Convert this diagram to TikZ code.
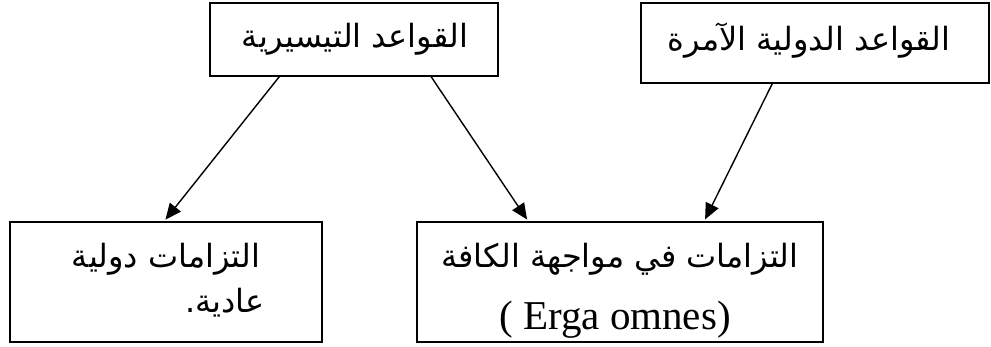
\documentclass[tikz,border=0pt]{standalone}
\usepackage{fontspec}
\setmainfont{Liberation Serif}
\newfontfamily\arabicfont[Script=Arabic]{DejaVu Sans}
\TeXXeTstate=1
\usetikzlibrary{arrows.meta}
\begin{document}
\begin{tikzpicture}[x=1pt,y=-1pt,
  box/.style={draw,line width=1.6pt,minimum width=#1,inner sep=0pt},
  lbl/.style={anchor=base,inner sep=0pt,font=\arabicfont\fontsize{32}{32}\selectfont},
  lat/.style={anchor=base,inner sep=0pt,font=\fontsize{41}{41}\selectfont},
  conn/.style={line width=1.4pt,-{Triangle[length=16pt,width=14pt]},shorten >=2pt}]
\useasboundingbox (0,0) rectangle (991,347);
\node[box=288pt,minimum height=73pt] (A) at (354,39.5) {};
\node[box=348pt,minimum height=80pt] (B) at (815,43) {};
\node[box=312pt,minimum height=120pt] (C) at (166,282) {};
\node[box=406pt,minimum height=120pt] (D) at (620,282) {};
\node[lbl] (ta) at (355,48) {\beginR القواعد التيسيرية\endR};
\node[lbl] (tb) at (809,51) {\beginR القواعد الدولية الآمرة\endR};
\node[lbl] (tc1) at (166,268) {\beginR التزامات دولية\endR};
\node[lbl] (tc2) at (225,313) {\beginR عادية.\endR};
\node[lbl] (td1) at (620,268) {\beginR التزامات في مواجهة الكافة\endR};
\node[lat] (td2) at (615,330) {( Erga omnes)};
\draw[conn] ([xshift=70pt]A.south west) -- ([xshift=155pt]C.north west);
\draw[conn] ([xshift=222pt]A.south west) -- ([xshift=112pt]D.north west);
\draw[conn] ([xshift=132pt]B.south west) -- ([xshift=288pt]D.north west);
\end{tikzpicture}
\end{document}
